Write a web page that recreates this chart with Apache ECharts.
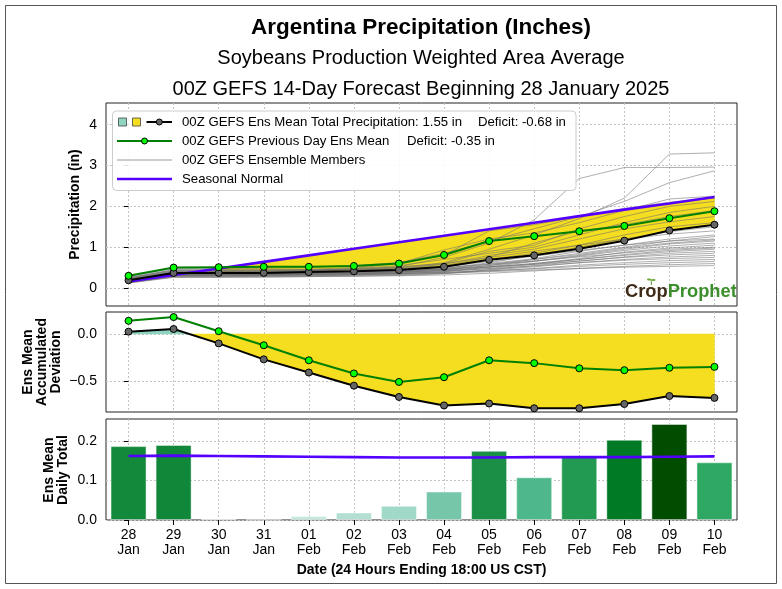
<!DOCTYPE html>
<html><head><meta charset="utf-8">
<script src="https://cdn.jsdelivr.net/npm/echarts@6/dist/echarts.min.js"></script>
<style>html,body{margin:0;padding:0;background:#fff}#c{width:782px;height:589px}</style>
</head><body><div id="c"></div><script>
// ---------------- data ----------------
const categories = ['28\nJan','29\nJan','30\nJan','31\nJan','01\nFeb','02\nFeb','03\nFeb','04\nFeb','05\nFeb','06\nFeb','07\nFeb','08\nFeb','09\nFeb','10\nFeb'];
const ensMean   = [0.19,0.37,0.37,0.37,0.39,0.41,0.44,0.52,0.69,0.80,0.96,1.16,1.41,1.55];
const prevMean  = [0.30,0.50,0.51,0.52,0.52,0.54,0.60,0.81,1.15,1.27,1.39,1.52,1.71,1.88];
const normalCum = [0.16,0.32,0.48,0.64,0.80,0.96,1.12,1.28,1.44,1.60,1.76,1.92,2.07,2.23];
const ensMeanDev = [0.025,0.053,-0.10,-0.27,-0.41,-0.55,-0.67,-0.76,-0.74,-0.79,-0.79,-0.745,-0.66,-0.68];
const prevDev    = [0.14,0.18,0.03,-0.12,-0.28,-0.42,-0.51,-0.46,-0.28,-0.31,-0.365,-0.385,-0.36,-0.35];
const dailyTotal  = [0.187,0.190,0.003,0.001,0.010,0.019,0.036,0.072,0.175,0.108,0.161,0.203,0.243,0.146];
const dailyNormal = [0.162,0.163,0.162,0.161,0.160,0.159,0.158,0.158,0.158,0.159,0.159,0.159,0.160,0.161];
const members = [
 [0.22,0.40,0.40,0.40,0.41,0.45,0.52,0.75,1.10,1.67,2.68,2.95,2.95,2.96],
 [0.18,0.36,0.36,0.37,0.40,0.42,0.50,0.62,0.95,1.30,1.70,2.20,3.28,3.31],
 [0.25,0.45,0.45,0.45,0.46,0.50,0.62,0.85,1.15,1.45,1.75,2.12,2.58,2.87],
 [0.20,0.38,0.38,0.39,0.42,0.48,0.60,0.93,1.20,1.35,1.60,1.90,2.18,2.25],
 [0.28,0.48,0.48,0.48,0.50,0.55,0.62,0.80,1.40,1.55,1.75,1.95,2.10,2.20],
 [0.15,0.33,0.33,0.34,0.36,0.40,0.45,0.60,0.90,1.05,1.45,1.75,2.00,2.12],
 [0.21,0.39,0.40,0.41,0.43,0.47,0.55,0.70,0.85,1.00,1.30,1.60,1.85,2.00],
 [0.17,0.35,0.35,0.36,0.37,0.40,0.48,0.55,0.75,1.10,1.40,1.55,1.75,1.90],
 [0.24,0.42,0.42,0.42,0.44,0.46,0.50,0.58,0.80,0.95,1.20,1.45,1.62,1.75],
 [0.19,0.37,0.37,0.38,0.39,0.41,0.44,0.50,0.70,0.85,1.05,1.30,1.50,1.60],
 [0.14,0.30,0.30,0.31,0.33,0.35,0.40,0.48,0.62,0.80,1.00,1.20,1.38,1.50],
 [0.26,0.44,0.44,0.44,0.45,0.47,0.52,0.60,0.75,0.90,1.05,1.20,1.32,1.40],
 [0.20,0.36,0.36,0.36,0.37,0.39,0.42,0.47,0.60,0.72,0.90,1.05,1.20,1.30],
 [0.16,0.32,0.32,0.33,0.34,0.36,0.38,0.44,0.55,0.70,0.85,1.00,1.15,1.26],
 [0.23,0.41,0.41,0.41,0.42,0.44,0.47,0.52,0.65,0.78,0.92,1.05,1.15,1.20],
 [0.18,0.34,0.34,0.34,0.35,0.37,0.40,0.45,0.58,0.70,0.82,0.98,1.10,1.18],
 [0.13,0.28,0.28,0.29,0.30,0.32,0.35,0.40,0.52,0.65,0.80,0.95,1.08,1.15],
 [0.21,0.38,0.38,0.38,0.39,0.40,0.42,0.46,0.55,0.66,0.78,0.92,1.03,1.10],
 [0.17,0.33,0.33,0.33,0.34,0.35,0.37,0.42,0.50,0.60,0.72,0.88,0.98,1.05],
 [0.25,0.43,0.43,0.43,0.44,0.45,0.47,0.50,0.58,0.66,0.76,0.86,0.95,1.00],
 [0.15,0.31,0.31,0.31,0.32,0.33,0.36,0.40,0.48,0.58,0.70,0.82,0.92,0.98],
 [0.19,0.35,0.35,0.35,0.36,0.37,0.39,0.43,0.52,0.60,0.70,0.80,0.89,0.95],
 [0.12,0.26,0.26,0.27,0.28,0.29,0.31,0.35,0.45,0.55,0.66,0.76,0.85,0.90],
 [0.22,0.39,0.39,0.39,0.40,0.41,0.43,0.46,0.52,0.58,0.66,0.75,0.81,0.85],
 [0.16,0.31,0.31,0.32,0.33,0.34,0.35,0.38,0.44,0.52,0.62,0.70,0.76,0.80],
 [0.20,0.36,0.36,0.36,0.37,0.38,0.40,0.42,0.47,0.54,0.62,0.68,0.72,0.75],
 [0.14,0.29,0.29,0.29,0.30,0.31,0.33,0.36,0.42,0.48,0.56,0.62,0.67,0.70],
 [0.18,0.33,0.33,0.33,0.34,0.35,0.36,0.38,0.42,0.47,0.53,0.58,0.62,0.65],
 [0.13,0.27,0.27,0.27,0.28,0.29,0.30,0.32,0.36,0.42,0.48,0.53,0.57,0.60],
 [0.17,0.31,0.31,0.31,0.32,0.33,0.34,0.36,0.40,0.44,0.48,0.51,0.53,0.55]
];
const precipTicks = [0,1,2,3,4];
const devTicks = [-0.5,0];
const dailyTicks = [0,0.1,0.2];
const xTicks = [0,1,2,3,4,5,6,7,8,9,10,11,12,13];
const barColors = ['#13893b','#11873a','#e2f4ee','#e8f6f2','#c3e7dc','#b2dfd1','#a0d9c7','#76c6aa','#1a8f45','#4fb88a','#229a52','#007a25','#004d00','#2fa864'];

// ---------------- styles ----------------
const FONT = 'Liberation Sans, Arial, sans-serif';
const YELLOW = '#f5dd20', TEAL = '#8fd4c1', BLUE = '#5500ff';
const GRIDLINE = {show:true, lineStyle:{color:'#c4c4c4', type:[2,2], width:1}};

function near(list, v){ return list.some(t => Math.abs(t - v) < 1e-9); }
function fillRegions(a, b){
  const regions = []; let cur = null;
  for (let i = 0; i < a.length; i++){
    const d = a[i] - b[i];
    if (i > 0){
      const dp = a[i-1] - b[i-1];
      if (dp !== 0 && d !== 0 && (dp > 0) !== (d > 0)){
        const t = dp / (dp - d);
        const p = [i - 1 + t, a[i-1] + t * (a[i] - a[i-1])];
        cur.a.push(p); cur.b.push(p);
        cur = {pos: d > 0, a:[p], b:[p]}; regions.push(cur);
      }
    }
    if (!cur){ cur = {pos: d > 0, a:[], b:[]}; regions.push(cur); }
    cur.a.push([i, a[i]]); cur.b.push([i, b[i]]);
  }
  return regions;
}
function fillSeries(idx, a, b){
  const regions = fillRegions(a, b);
  return {type:'custom', xAxisIndex:idx, yAxisIndex:idx, data:[[0,0]], silent:true, z:2,
    renderItem:(params, api) => ({type:'group', children: regions.map(r => {
      const col = r.pos ? TEAL : YELLOW;
      return {type:'polygon', shape:{points: r.a.concat(r.b.slice().reverse()).map(p => api.coord(p))},
        style:{fill: col, stroke: col, lineWidth: 0.5}};
    })})};
}
const pts = arr => arr.map((v, i) => [i, v]);

const grids = [
  {left:106, top:103, width:631, height:203},
  {left:106, top:312, width:631, height:100},
  {left:106, top:419, width:631, height:101}
].map(g => Object.assign(g, {show:true, borderColor:'#222', borderWidth:1, backgroundColor:'transparent', containLabel:false, outerBoundsMode:'none'}));

const xAxes = [0,1,2].map(gi => ({
  type:'value', gridIndex:gi, min:-0.5, max:13.5, splitNumber:14,
  axisLine:{show:false},
  axisTick:{show: gi === 2, length:5, customValues: xTicks, lineStyle:{color:'#000', width:1}},
  axisLabel:{show: gi === 2, customValues: xTicks, margin:8, fontSize:14, lineHeight:15, color:'#000', fontFamily:FONT,
    formatter: v => Number.isInteger(v) && categories[v] ? categories[v] : ''},
  splitLine: GRIDLINE
}));
function yAxis(gi, min, max, split, ticks, fmt){
  return {type:'value', gridIndex:gi, min, max, splitNumber:split,
    axisLine:{show:false},
    axisTick:{show:true, length:4.5, customValues: ticks, lineStyle:{color:'#000', width:1}},
    axisLabel:{customValues: ticks, margin:9, fontSize:14, color:'#000', fontFamily:FONT,
      formatter: v => near(ticks, v) ? fmt(v) : ''},
    splitLine: GRIDLINE};
}
const yAxes = [
  yAxis(0, -0.44, 4.53, 5, precipTicks, v => String(Math.round(v))),
  yAxis(1, -0.83, 0.234, 2, devTicks, v => v.toFixed(1).replace('-', '\u2212')),
  yAxis(2, 0, 0.2556, 3, dailyTicks, v => v.toFixed(1))
];

const series = [];
series.push(fillSeries(0, ensMean, normalCum));
members.forEach(m => series.push({type:'line', xAxisIndex:0, yAxisIndex:0, data:pts(m), symbol:'none', silent:true, z:3,
  lineStyle:{color:'rgba(110,110,110,0.55)', width:1}}));
series.push({type:'line', xAxisIndex:0, yAxisIndex:0, data:pts(normalCum), symbol:'none', z:4, lineStyle:{color:BLUE, width:2.6}});
const meanStyle = {symbol:'circle', symbolSize:7, lineStyle:{color:'#000', width:2}, itemStyle:{color:'#666', borderColor:'#000', borderWidth:1}};
const prevStyle = {symbol:'circle', symbolSize:7, lineStyle:{color:'#008000', width:2}, itemStyle:{color:'#00ff00', borderColor:'#000', borderWidth:1}};
series.push(Object.assign({type:'line', xAxisIndex:0, yAxisIndex:0, data:pts(ensMean), z:5}, meanStyle));
series.push(Object.assign({type:'line', xAxisIndex:0, yAxisIndex:0, data:pts(prevMean), z:6}, prevStyle));

series.push(fillSeries(1, ensMeanDev, ensMeanDev.map(() => 0)));
series.push(Object.assign({type:'line', xAxisIndex:1, yAxisIndex:1, data:pts(prevDev), z:5}, prevStyle));
series.push(Object.assign({type:'line', xAxisIndex:1, yAxisIndex:1, data:pts(ensMeanDev), z:6}, meanStyle));

series.push({type:'bar', xAxisIndex:2, yAxisIndex:2, barWidth:36, z:2,
  data: dailyTotal.map((v, i) => ({value:[i, v], itemStyle:{color: barColors[i], borderColor:'rgba(255,255,255,0.45)', borderWidth:1}}))});
series.push({type:'line', xAxisIndex:2, yAxisIndex:2, data:pts(dailyNormal), symbol:'none', z:4, lineStyle:{color:BLUE, width:2.6}});

// ---------------- graphics (titles, legend, labels) ----------------
const txt = (x, y, text, size, weight, extra) => Object.assign({type:'text', x, y, z:50,
  style:{text, fontSize:size, fontWeight:weight || 'normal', fontFamily:FONT, fill:'#000', align:'center', verticalAlign:'middle'}}, extra || {});
const ltxt = (x, y, text) => ({type:'text', x, y, z:42,
  style:{text, fontSize:13.2, fontFamily:FONT, fill:'#000', align:'left', verticalAlign:'middle'}});
const lx = 117, lx2 = 172;
const graphic = [
  {type:'rect', shape:{x:5.5, y:5.5, width:771, height:578}, style:{fill:'none', stroke:'#555', lineWidth:1}, z:0},
  txt(421, 27.5, 'Argentina Precipitation (Inches)', 22.5, 'bold'),
  txt(421, 58, 'Soybeans Production Weighted Area Average', 20),
  txt(421, 89, '00Z GEFS 14-Day Forecast Beginning 28 January 2025', 20),
  txt(421.5, 570, 'Date (24 Hours Ending 18:00 US CST)', 14, 'bold'),
  txt(75, 204.5, 'Precipitation (in)', 14, 'bold', {rotation: Math.PI/2}),
  txt(42, 362, 'Ens Mean\nAccumulated\nDeviation', 14, 'bold', {rotation: Math.PI/2}),
  txt(56, 470, 'Ens Mean\nDaily Total', 14, 'bold', {rotation: Math.PI/2}),
  // legend
  {type:'rect', z:40, shape:{x:112.5, y:111, width:463.5, height:79.5, r:4}, style:{fill:'rgba(255,255,255,0.88)', stroke:'#cccccc', lineWidth:1}},
  {type:'rect', z:41, shape:{x:118.5, y:118, width:8, height:8}, style:{fill:TEAL, stroke:'#444', lineWidth:0.8}},
  {type:'rect', z:41, shape:{x:132.5, y:118, width:8, height:8}, style:{fill:YELLOW, stroke:'#444', lineWidth:0.8}},
  {type:'line', z:41, shape:{x1:146.5, y1:122, x2:172, y2:122}, style:{stroke:'#000', lineWidth:2}},
  {type:'circle', z:42, shape:{cx:159.3, cy:122, r:3}, style:{fill:'#666', stroke:'#000', lineWidth:1}},
  {type:'line', z:41, shape:{x1:lx, y1:141, x2:lx2, y2:141}, style:{stroke:'#008000', lineWidth:2}},
  {type:'circle', z:42, shape:{cx:144.5, cy:141, r:3}, style:{fill:'#00ff00', stroke:'#000', lineWidth:1}},
  {type:'line', z:41, shape:{x1:lx, y1:160, x2:lx2, y2:160}, style:{stroke:'#9a9a9a', lineWidth:1}},
  {type:'line', z:41, shape:{x1:lx, y1:179, x2:lx2, y2:179}, style:{stroke:BLUE, lineWidth:2.6}},
  ltxt(182, 122, '00Z GEFS Ens Mean Total Precipitation: 1.55 in'),
  ltxt(478, 122, 'Deficit: -0.68 in'),
  ltxt(182, 141, '00Z GEFS Previous Day Ens Mean'),
  ltxt(407, 141, 'Deficit: -0.35 in'),
  ltxt(182, 160, '00Z GEFS Ensemble Members'),
  ltxt(182, 179, 'Seasonal Normal'),
  // watermark
  {type:'text', x:625, y:292, z:45, style:{text:'{a|Crop}{b|Prophet}', verticalAlign:'middle', align:'left',
    rich:{a:{fontSize:18.3, fontFamily:FONT, fill:'#3f2c18', fontWeight:'bold'}, b:{fontSize:18.3, fontFamily:FONT, fill:'#3c8f2c', fontWeight:'bold'}}}},
  {type:'line', z:45, shape:{x1:651.5, y1:285, x2:651, y2:279}, style:{stroke:'#5a9a3a', lineWidth:1}},
  {type:'ellipse', z:45, shape:{cx:649, cy:279.5, rx:2, ry:1}, style:{fill:'#6aaa3a'}},
  {type:'ellipse', z:45, shape:{cx:653.5, cy:280, rx:2, ry:1}, style:{fill:'#6aaa3a'}}
];

const chart = echarts.init(document.getElementById('c'), null, {renderer:'canvas'});
chart.setOption({animation:false, backgroundColor:'#fff', grid:grids, xAxis:xAxes, yAxis:yAxes, series, graphic});
</script></body></html>
